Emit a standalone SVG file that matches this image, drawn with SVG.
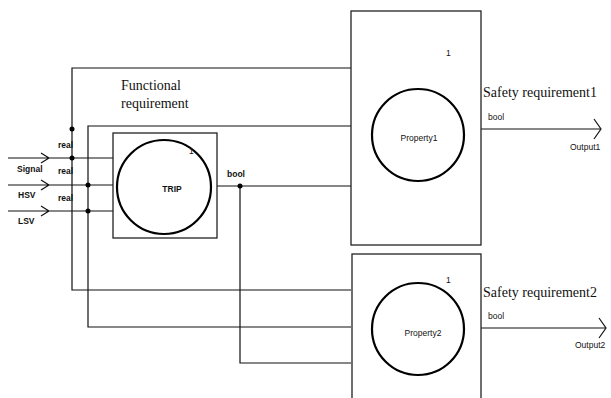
<svg xmlns="http://www.w3.org/2000/svg" width="611" height="398" viewBox="0 0 611 398">
  <style>
    .wire { fill: none; stroke: #111; stroke-width: 1.2; }
    .box { fill: none; stroke: #222; stroke-width: 1.3; }
    .ring { fill: none; stroke: #000; stroke-width: 2.2; }
    .dot { fill: #000; }
    .serif { font-family: "Liberation Serif", "Times New Roman", serif; font-size: 14px; fill: #111; }
    .lbl { font-family: "Liberation Sans", Arial, sans-serif; font-size: 8.5px; fill: #111; }
    .tag { font-family: "Liberation Sans", Arial, sans-serif; font-size: 8.5px; font-weight: bold; fill: #111; }
  </style>

  <!-- wiring between blocks -->
  <g id="connectors">
    <!-- input ports -->
    <path class="wire" d="M8 158 H113 M41 153 L49 158 L41 163"/>
    <path class="wire" d="M8 185 H113 M41 180 L49 185 L41 190"/>
    <path class="wire" d="M8 211 H113 M41 206 L49 211 L41 216"/>
    <!-- fan-out buses -->
    <path class="wire" d="M351 68 H72 V290 H351"/>
    <path class="wire" d="M351 126 H88 V327 H351"/>
    <path class="wire" d="M217 186 H351"/>
    <path class="wire" d="M240 186 V363 H351"/>
    <!-- outputs -->
    <path class="wire" d="M481 129 H600 M594 119 L601 129 L594 139"/>
    <path class="wire" d="M481 328 H605 M599 318 L606 328 L599 338"/>
    <!-- junctions -->
    <circle class="dot" cx="72" cy="129" r="2.5"/>
    <circle class="dot" cx="72" cy="158" r="2.5"/>
    <circle class="dot" cx="88" cy="185" r="2.5"/>
    <circle class="dot" cx="88" cy="211" r="2.5"/>
    <circle class="dot" cx="240" cy="186" r="2.5"/>
  </g>

  <!-- input labels -->
  <g id="inputs">
    <text class="tag" x="17" y="172">Signal</text>
    <text class="tag" x="18" y="198">HSV</text>
    <text class="tag" x="18" y="224">LSV</text>
    <text class="tag" x="58" y="148">real</text>
    <text class="tag" x="58" y="174">real</text>
    <text class="tag" x="58" y="201">real</text>
  </g>

  <g id="functional">
    <text class="serif" x="121" y="90">Functional</text>
    <text class="serif" x="121" y="108">requirement</text>
    <rect class="box" x="113" y="133" width="104" height="105"/>
    <circle class="ring" cx="164" cy="187" r="47"/>
    <text class="tag" x="172" y="192" text-anchor="middle" font-size="10">TRIP</text>
    <text class="lbl" x="189" y="154" font-size="7">1</text>
    <text class="tag" x="227" y="177">bool</text>
  </g>

  <g id="property1">
    <rect class="box" x="351" y="11" width="130" height="234"/>
    <circle class="ring" cx="418" cy="135" r="46"/>
    <text class="lbl" x="419" y="141" text-anchor="middle" font-size="9">Property1</text>
    <text class="lbl" x="446" y="56" font-size="7">1</text>
    <text class="serif" x="483" y="97">Safety requirement1</text>
    <text class="lbl" x="488" y="120">bool</text>
    <text class="lbl" x="570" y="150">Output1</text>
  </g>

  <g id="property2">
    <rect class="box" x="352" y="254" width="129" height="150"/>
    <circle class="ring" cx="418" cy="329" r="46"/>
    <text class="lbl" x="423" y="336" text-anchor="middle" font-size="9">Property2</text>
    <text class="lbl" x="446" y="283" font-size="7">1</text>
    <text class="serif" x="483" y="297">Safety requirement2</text>
    <text class="lbl" x="488" y="319">bool</text>
    <text class="lbl" x="575" y="348">Output2</text>
  </g>
</svg>
